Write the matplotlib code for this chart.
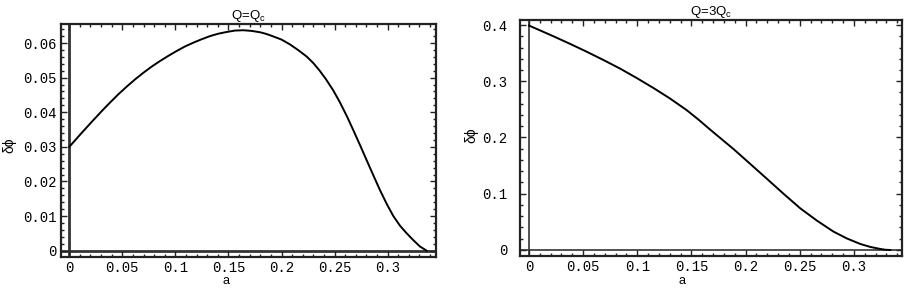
import matplotlib
matplotlib.use("Agg")
import matplotlib.pyplot as plt
import matplotlib.ticker as ticker
import numpy as np

# Q = Q_c
a_left = [0.0, 0.0113, 0.0226, 0.0305, 0.0384, 0.0463, 0.0541, 0.0620, 0.0698,
          0.0777, 0.0855, 0.0934, 0.1012, 0.1090, 0.1169, 0.1248, 0.1326, 0.1405,
          0.1484, 0.1560, 0.1640, 0.1720, 0.1800, 0.1860, 0.1923, 0.2000, 0.2080,
          0.2160, 0.2237, 0.2300, 0.2360, 0.2420, 0.2488, 0.2550, 0.2620, 0.2677,
          0.2740, 0.2803, 0.2865, 0.2928, 0.2990, 0.3054, 0.3117, 0.3180, 0.3240,
          0.3305, 0.3368]
dphi_left = [0.0300, 0.0339, 0.0377, 0.0403, 0.0428, 0.0452, 0.0474, 0.0495, 0.0514,
             0.0532, 0.0548, 0.0563, 0.0577, 0.0590, 0.0601, 0.0611, 0.0620, 0.0627,
             0.0632, 0.0636, 0.0637, 0.0635, 0.0631, 0.0626, 0.0619, 0.0610, 0.0596,
             0.0579, 0.0561, 0.0542, 0.0520, 0.0495, 0.0463, 0.0429, 0.0386, 0.0348,
             0.0305, 0.0261, 0.0218, 0.0175, 0.0136, 0.0100, 0.0072, 0.0050, 0.0031,
             0.0012, 0.0]

# Q = 3 Q_c
a_right = [0.0, 0.0112, 0.0225, 0.0380, 0.0533, 0.0687, 0.0841, 0.0995, 0.1149,
           0.1303, 0.1457, 0.1565, 0.1673, 0.1780, 0.1888, 0.2040, 0.2197, 0.2350,
           0.2505, 0.2660, 0.2812, 0.2935, 0.3059, 0.3150, 0.3244, 0.3290, 0.3336]
dphi_right = [0.399, 0.3896, 0.380, 0.3664, 0.3525, 0.3378, 0.3225, 0.3057, 0.2880,
              0.2692, 0.2485, 0.2318, 0.2140, 0.1968, 0.1795, 0.1535, 0.1265, 0.1000,
              0.0740, 0.0520, 0.0326, 0.0205, 0.0107, 0.0055, 0.0018, 0.0004, 0.0]

plt.rcParams['mathtext.fontset'] = 'custom'
plt.rcParams['mathtext.rm'] = 'Liberation Sans'
plt.rcParams['mathtext.default'] = 'regular'

fig = plt.figure(figsize=(9.05, 2.88), dpi=100)
ax1 = fig.add_axes([61/905, 1-257/288, 375/905, 233/288])
ax2 = fig.add_axes([520/905, 1-256/288, 382/905, 236/288])


def style(ax, xlim, ylim, ymaj, ymin, ypad, axis_lw, title, lab_x, ylab_xy):
    ax.set_xlim(*xlim)
    ax.set_ylim(*ylim)
    ax.xaxis.set_major_locator(ticker.MultipleLocator(0.05))
    ax.xaxis.set_minor_locator(ticker.MultipleLocator(0.01))
    ax.yaxis.set_major_locator(ticker.MultipleLocator(ymaj))
    ax.yaxis.set_minor_locator(ticker.MultipleLocator(ymin))
    fmt = ticker.FuncFormatter(lambda v, p: '%g' % round(v, 4))
    ax.xaxis.set_major_formatter(fmt)
    ax.yaxis.set_major_formatter(fmt)
    ax.tick_params(which='both', direction='in', top=True, right=True, color='#222222', width=1.0)
    ax.tick_params(which='major', length=4)
    ax.tick_params(which='minor', length=2)
    ax.tick_params(axis='x', pad=3)
    ax.tick_params(axis='y', pad=ypad)
    for lab in ax.get_xticklabels() + ax.get_yticklabels():
        lab.set_fontfamily('Liberation Mono')
        lab.set_fontsize(10)
    for s in ax.spines.values():
        s.set_linewidth(1.6)
        s.set_color('#222222')
    ax.axhline(0, color='#333333', lw=axis_lw, zorder=1)
    ax.axvline(0, color='#333333', lw=axis_lw, zorder=1)
    ax.set_title(title, fontsize=9.5, family='Liberation Sans', pad=1)
    ax.set_xlabel('a', fontsize=9, family='Liberation Sans', va='baseline')
    ax.xaxis.set_label_coords(lab_x, -0.118)
    ax.set_ylabel('δϕ', fontsize=10, family=['Liberation Sans', 'DejaVu Sans'])
    ax.yaxis.set_label_coords(*ylab_xy)


ax1.plot(a_left, dphi_left, color='black', lw=1.4, zorder=3, solid_joinstyle='round')
style(ax1, (-0.0078, 0.3456), (-0.00183, 0.0655), 0.01, 0.002, 3, 2.0,
      'Q=Q$_c$', 0.44, (-0.12, 0.48))

ax2.plot(a_right, dphi_right, color='black', lw=1.4, zorder=3, solid_joinstyle='round')
style(ax2, (-0.0083, 0.3444), (-0.0107, 0.4089), 0.1, 0.02, 9, 1.2,
      'Q=3Q$_c$', 0.423, (-0.108, 0.51))

fig.savefig('out.png', dpi=100)
